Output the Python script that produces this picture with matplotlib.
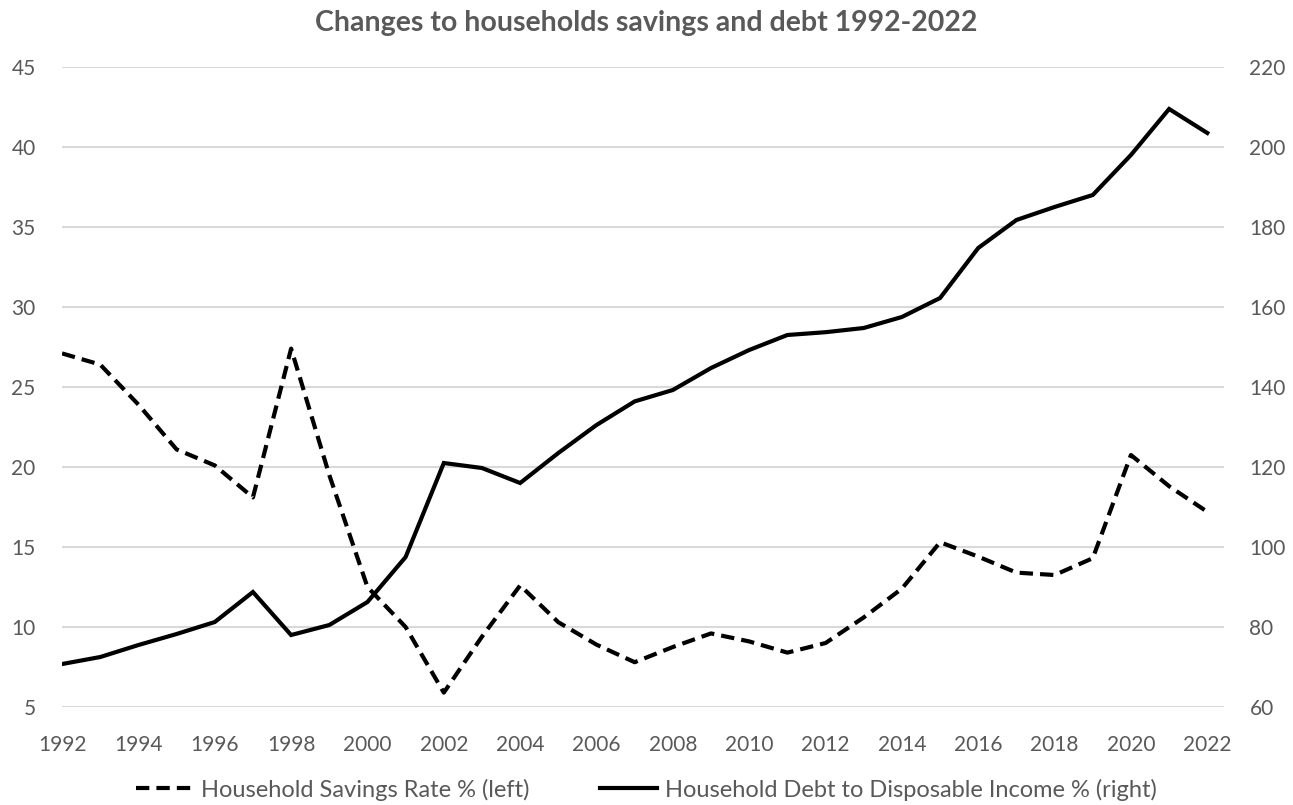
import matplotlib.pyplot as plt
import numpy as np

plt.rcParams['font.family'] = ['Lato', 'DejaVu Sans']

years = list(range(1992, 2023))

# household savings rate, % (left axis)
savings = [27.1, 26.4, 23.9, 21.1, 20.1, 18.1, 27.4, 19.5, 12.5, 10.0,
           5.9, 9.4, 12.6, 10.3, 8.9, 7.8, 8.75, 9.6, 9.1, 8.4,
           9.0, 10.6, 12.4, 15.3, 14.4, 13.4, 13.25, 14.3, 20.75, 18.8,
           17.2]

# household debt to disposable income, % (right axis)
debt = [70.75, 72.5, 75.5, 78.25, 81.25, 88.75, 78.0, 80.5, 86.25, 97.5,
        121.0, 119.75, 116.0, 123.5, 130.5, 136.4, 139.25, 144.75, 149.25, 153.0,
        153.7, 154.75, 157.5, 162.25, 174.75, 181.75, 185.0, 188.0, 198.0, 209.5,
        203.5]

grey = '#595959'

fig = plt.figure(figsize=(12.93, 8.05), dpi=100)
ax = fig.add_axes([0.048, 0.1217, 0.899, 0.7951])
ax2 = ax.twinx()

ax.set_ylim(5, 45)
ax.set_yticks(np.arange(5, 46, 5))
ax2.set_ylim(60, 220)
ax2.set_yticks(np.arange(60, 221, 20))
ax.set_xlim(1992, 2022.45)
ax.set_xticks(years[::2])

ax.grid(axis='y', color='#d9d9d9', linewidth=1.5)
ax.set_axisbelow(True)

l1, = ax.plot(years, savings, color='black', linewidth=3, linestyle=(0, (3.2, 1.7)),
              dash_capstyle='butt', label='Household Savings Rate % (left)')
l2, = ax2.plot(years, debt, color='black', linewidth=3, solid_joinstyle='miter',
               label='Household Debt to Disposable Income % (right)')

for a in (ax, ax2):
    for s in a.spines.values():
        s.set_visible(False)
ax.tick_params(axis='y', length=0, pad=19, labelsize=15, labelcolor=grey)
ax.tick_params(axis='x', length=0, pad=20, labelsize=15, labelcolor=grey)
ax2.tick_params(axis='y', length=0, pad=18, labelsize=15, labelcolor=grey)

fig.suptitle('Changes to households savings and debt 1992-2022', x=0.5, y=0.987,
             fontsize=20.5, fontweight='bold', color=grey)

leg = fig.legend(handles=[l1, l2], loc='center', bbox_to_anchor=(0.5, 0.019), ncol=2,
                 frameon=False, fontsize=17, handlelength=2.4, handletextpad=0.33,
                 columnspacing=3.0, labelcolor=grey)

fig.savefig('out.png', dpi=100)
